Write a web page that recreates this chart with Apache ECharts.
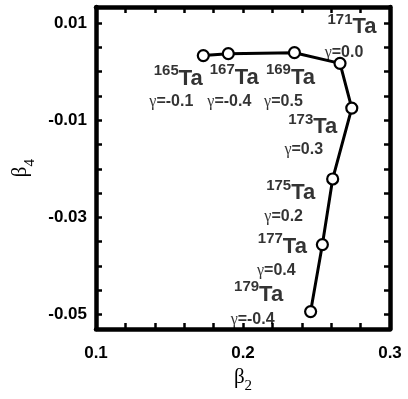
<!DOCTYPE html>
<html>
<head>
<meta charset="utf-8">
<script src="https://cdn.jsdelivr.net/npm/echarts@6/dist/echarts.min.js"></script>
<style>
  html, body { margin: 0; padding: 0; background: #fff; }
  #chart { width: 408px; height: 399px; }
</style>
</head>
<body>
<div id="chart"></div>
<script>
// Ground-state deformations of the odd Ta isotopes
const massNumbers = ['165', '167', '169', '171', '173', '175', '177', '179'];
const beta2 = [0.173, 0.190, 0.235, 0.266, 0.274, 0.261, 0.254, 0.246];
const beta4 = [0.0033, 0.0037, 0.0039, 0.0017, -0.0075, -0.0221, -0.0356, -0.0494];
const gammaLabels = ['-0.1', '-0.4', '0.5', '0.0', '0.3', '0.2', '0.4', '-0.4'];

// Axis ticks and labelled values
const xTicks = [0.1, 0.12, 0.14, 0.16, 0.18, 0.2, 0.22, 0.24, 0.26, 0.28, 0.3];
const xLabels = [0.1, 0.2, 0.3];
const yTicks = [-0.05, -0.045, -0.04, -0.035, -0.03, -0.025, -0.02, -0.015, -0.01, -0.005, 0, 0.005, 0.01];
const yLabels = [-0.05, -0.03, -0.01, 0.01];

// Label placement (pixel offsets from each point)
const nameOffsets = [[-25, 18], [6, 19], [-4, 20], [12, -41], [-39, 14], [-42, 9], [-40, -3], [-52, -22]];
const gammaOffsets = [[-32, 46], [1, 48], [-11, 49], [4, -11], [-48, 42], [-49, 38], [-46, 26], [-58, 8]];

const points = beta2.map((b, i) => [b, beta4[i]]);

const frameLine = { show: true, onZero: false, lineStyle: { color: '#000', width: 4.5 } };
const tickStyle = { show: true, inside: true, length: 6, lineStyle: { color: '#000', width: 2.5 } };

const nameRich = {
  b: { fontFamily: 'Liberation Serif', fontSize: 21, color: '#000', lineHeight: 22, verticalAlign: 'top' },
  s: { fontFamily: 'Liberation Serif', fontSize: 15, color: '#000', lineHeight: 15, padding: [12, 0, 0, 0], verticalAlign: 'top' }
};

function xAxis(position, withLabels) {
  return {
    type: 'value', position: position, min: 0.1, max: 0.3,
    axisLine: frameLine,
    axisTick: Object.assign({ customValues: xTicks }, tickStyle),
    axisLabel: withLabels ? {
      customValues: xLabels, margin: 16,
      formatter: v => v.toFixed(1),
      color: '#000', fontFamily: 'Liberation Sans', fontWeight: 'bold', fontSize: 17
    } : { show: false },
    splitLine: { show: false },
    name: withLabels ? '{b|β}{s|2}' : '',
    nameLocation: 'middle', nameGap: 34,
    nameTextStyle: { rich: nameRich }
  };
}

function yAxis(position, withLabels) {
  return {
    type: 'value', position: position, min: -0.053, max: 0.0133,
    axisLine: frameLine,
    axisTick: Object.assign({ customValues: yTicks }, tickStyle),
    axisLabel: withLabels ? {
      customValues: yLabels, margin: 9,
      formatter: v => v.toFixed(2),
      color: '#000', fontFamily: 'Liberation Sans', fontWeight: 'bold', fontSize: 17
    } : { show: false },
    splitLine: { show: false },
    name: withLabels ? '{b|β}{s|4}' : '',
    nameLocation: 'middle', nameGap: 58, nameRotate: 90,
    nameTextStyle: { rich: nameRich }
  };
}

const chart = echarts.init(document.getElementById('chart'), null, { renderer: 'canvas' });
chart.setOption({
  backgroundColor: '#fff',
  animation: false,
  grid: { left: 96, right: 18, top: 7, bottom: 68 },
  xAxis: [xAxis('bottom', true), xAxis('top', false)],
  yAxis: [yAxis('left', true), yAxis('right', false)],
  series: [
    {
      type: 'line',
      data: points,
      lineStyle: { color: '#000', width: 3 },
      symbol: 'circle', symbolSize: 11,
      itemStyle: { color: '#fff', borderColor: '#000', borderWidth: 2.2 },
      z: 3
    },
    {
      // nuclide names
      type: 'scatter',
      data: points.map((p, i) => ({
        value: p,
        label: { offset: nameOffsets[i], formatter: '{m|' + massNumbers[i] + '}{t|Ta}' }
      })),
      symbolSize: 1,
      itemStyle: { color: 'transparent' },
      label: {
        show: true, position: 'inside',
        rich: {
          m: { fontFamily: 'Liberation Sans', fontWeight: 'bold', fontSize: 15, color: '#000', lineHeight: 14, verticalAlign: 'top' },
          t: { fontFamily: 'Liberation Sans', fontWeight: 'bold', fontSize: 22, color: '#000', lineHeight: 20, padding: [4, 0, 0, 0], verticalAlign: 'top' }
        }
      },
      silent: true, z: 4
    },
    {
      // triaxiality values
      type: 'scatter',
      data: points.map((p, i) => ({
        value: p,
        label: { offset: gammaOffsets[i], formatter: '{g|γ}{v|=' + gammaLabels[i] + '}' }
      })),
      symbolSize: 1,
      itemStyle: { color: 'transparent' },
      label: {
        show: true, position: 'inside',
        rich: {
          g: { fontFamily: 'Liberation Serif', fontSize: 16, color: '#000' },
          v: { fontFamily: 'Liberation Sans', fontWeight: 'bold', fontSize: 16, color: '#000' }
        }
      },
      silent: true, z: 4
    }
  ]
});
</script>
</body>
</html>
